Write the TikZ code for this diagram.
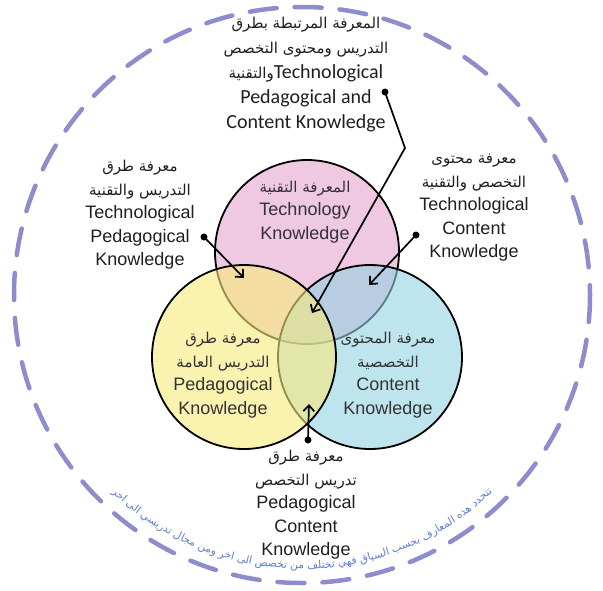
\documentclass[tikz,border=0pt]{standalone}
\usepackage{fontspec}
\setmainfont{Liberation Sans}
\newfontfamily\arabicfont[Script=Arabic]{DejaVu Sans}
\newfontfamily\calib{Carlito}
\usetikzlibrary{arrows.meta,calc}
\TeXXeTstate=1
\definecolor{pinkc}{RGB}{228,163,205}
\definecolor{yellowc}{RGB}{247,235,122}
\definecolor{bluec}{RGB}{147,210,227}
\definecolor{outerc}{RGB}{142,140,204}
\definecolor{arcc}{RGB}{92,126,208}
\newlength\wordw
\newlength\totw
\newlength\spw
\newcommand\ar[1]{{\arabicfont\fontsize{15}{18}\selectfont\beginR #1\endR}}
\newcommand\arcsentence{تتحدد هذه المعارف بحسب السياق فهي تختلف من تخصص الى اخر ومن مجال تدريسي الى اخر}
\newcommand\arcwords{تتحدد,هذه,المعارف,بحسب,السياق,فهي,تختلف,من,تخصص,الى,اخر,ومن,مجال,تدريسي,الى,اخر}
\begin{document}%
\settowidth\totw{\arabicfont\fontsize{10}{12}\selectfont\beginR\arcsentence\endR}%
\pgfmathsetmacro\arcfs{10*421/\the\totw}%
\def\arcfont{\arabicfont\fontsize{\arcfs}{\arcfs}\selectfont}%
{\arcfont\global\spw=\fontdimen2\font}%
\pgfmathsetmacro\spa{\the\spw/274*57.29578}%
\gdef\angnow{46}%
\foreach \w [count=\i] in \arcwords {%
  \settowidth\wordw{\arcfont\beginR\w\endR}%
  \pgfmathsetmacro\wa{\the\wordw/274*57.29578}%
  \pgfmathsetmacro\midang{\angnow+\wa/2}%
  \expandafter\xdef\csname awang\i\endcsname{\midang}%
  \pgfmathsetmacro\nxt{\angnow+\wa+\spa}%
  \xdef\angnow{\nxt}%
}%
\begin{tikzpicture}[x=1pt,y=-1pt,
  lbl/.style={align=center, font=\fontsize{18}{23.5}\selectfont, text=black!88, inner sep=0pt},
  inlbl/.style={lbl, text=black!80},
  toplbl/.style={align=center, font=\calib\fontsize{20}{25}\selectfont, text=black!88, inner sep=0pt},
  conn/.style={line width=1.7pt, -{Straight Barb[length=6pt,width=11pt]}},
  dotc/.style={circle, fill=black, inner sep=0pt, minimum size=7pt},
  venn/.style={circle, line width=1.8pt, draw=black, fill opacity=0.6, minimum size=184pt, inner sep=0pt},
  arctext/.style={anchor=base, inner sep=0pt, text=arcc},
]
\useasboundingbox (0,0) rectangle (603,590);
\coordinate (C) at (302,295);
\draw[draw=outerc, line width=4.5pt, dash pattern=on 27pt off 18pt, line cap=round] (C) circle[radius=288];

\node[venn, fill=pinkc] (T) at (307,252) {};
\node[venn, fill=bluec] (K) at (370,357) {};
\node[venn, fill=yellowc] (P) at (244,357) {};

\node[inlbl] (tk) at (305,212) {\ar{المعرفة التقنية}\\Technology\\Knowledge};
\node[inlbl] (pk) at (223,375) {\ar{معرفة طرق}\\\ar{التدريس العامة}\\Pedagogical\\Knowledge};
\node[inlbl] (ck) at (388,375) {\ar{معرفة المحتوى}\\\ar{التخصصية}\\Content\\Knowledge};

\node[lbl] (tpk) at (140,215) {\ar{معرفة طرق}\\\ar{التدريس والتقنية}\\Technological\\Pedagogical\\Knowledge};
\node[lbl] (tck) at (474,208) {\ar{معرفة محتوى}\\\ar{التخصص والتقنية}\\Technological\\Content\\Knowledge};
\node[lbl] (pck) at (306,505) {\ar{معرفة طرق}\\\ar{تدريس التخصص}\\Pedagogical\\Content\\Knowledge};
\node[toplbl] (tpack) at (306,75) {\ar{المعرفة المرتبطة بطرق}\\\ar{التدريس ومحتوى التخصص}\\\ar{والتقنية}Technological\\Pedagogical and\\Content Knowledge};

\node[dotc] (d1) at (204,237) {};
\coordinate (t1) at (244,278);
\draw[conn] (d1.center) -- (t1);
\node[dotc] (d2) at (416,235) {};
\coordinate (t2) at (369,285);
\draw[conn] (d2.center) -- (t2);
\node[dotc] (d3) at (385,92) {};
\coordinate (b3) at (405,148);
\coordinate (t3) at (312,313);
\draw[conn] (d3.center) -- (b3) -- (t3);
\node[dotc] (d4) at (308,440) {};
\coordinate (t4) at (309,404);
\draw[conn] (d4.center) -- (t4);

\foreach \w [count=\i] in \arcwords {
  \edef\midang{\csname awang\i\endcsname}
  \node[arctext, rotate={90-\midang}] (aw\i) at ($(C)+(\midang:274)$) {\arcfont\beginR\w\endR};
}
\end{tikzpicture}
\end{document}
